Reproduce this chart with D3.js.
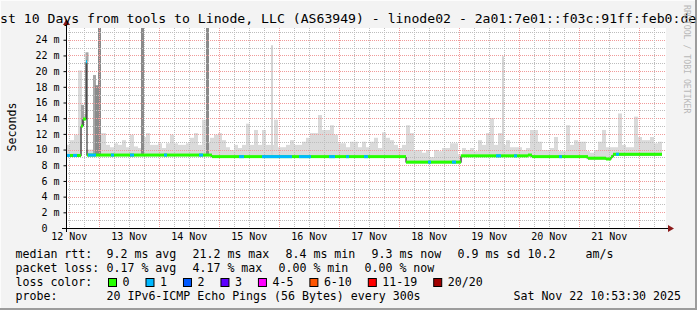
<!DOCTYPE html>
<meta charset="utf-8">
<script src="https://cdn.jsdelivr.net/npm/d3@7/dist/d3.min.js"></script>
<style>
body { margin: 0; background: #f3f3f3; }
svg { display: block; font-family: "DejaVu Sans Mono", monospace; }
</style>
<body>
<script>

// layout
var w = 697, h = 310,
    plot = {left: 66, right: 666, top: 28, bottom: 228};

// first / last sample of the 10 day window
var tStart = new Date(2025, 10, 12, 10, 53, 30),
    tEnd = new Date(2025, 10, 22, 10, 53, 30);

// smoke: highest ping per 1.6 h bin, ms
var smokeTop = [
  10.6, 11.2, 11.9, 20.1, 14.5, 10.0, 10.0, 11.0, 12.1, 12.1,
  10.6, 10.3, 10.8, 10.6, 11.2, 10.3, 11.9, 10.4, 10.2, 11.6,
  12.1, 10.6, 10.6, 10.8, 10.2, 10.8, 11.9, 10.8, 10.6, 10.6,
  10.8, 11.5, 12.1, 10.6, 13.8, 11.0, 11.5, 11.9, 12.1, 11.2,
  10.3, 9.95, 10.6, 10.2, 10.6, 13.3, 10.6, 12.5, 10.6, 12.5,
  10.6, 10.6, 13.8, 10.3, 10.3, 10.6, 11.2, 10.6, 10.6, 11.0,
  11.5, 12.1, 12.1, 14.4, 12.5, 12.5, 13.1, 11.9, 10.8, 10.8,
  10.3, 11.0, 11.0, 10.3, 11.0, 10.3, 11.0, 11.5, 10.2, 12.2,
  11.5, 11.2, 10.6, 10.2, 10.6, 13.1, 12.1, 9.95, 9.95, 9.6,
  9.95, 9.05, 9.95, 9.8, 10.2, 10.2, 10.8, 10.8, 9.4, 10.2,
  9.95, 10.2, 9.8, 11.2, 10.6, 12.1, 14.0, 10.6, 12.1, 10.6,
  11.2, 10.3, 10.3, 10.3, 9.95, 10.2, 12.5, 12.5, 11.0, 9.95,
  9.95, 10.2, 11.6, 9.8, 9.8, 13.1, 10.6, 11.2, 11.0, 11.0,
  9.8, 9.6, 9.95, 11.0, 12.5, 10.3, 10.3, 10.3, 14.6, 10.6,
  10.3, 10.3, 14.2, 11.6, 11.2, 11.2, 11.6, 10.8, 11.0
];
var binHours = 1.6;

// single tall pings (hours after start, ms)
var thinHours = [82.0, 174.4],
    thinTop = [23.3, 21.9];
var midHours = [6.0, 7.8, 10.8],
    midTop = [15.7, 22.4, 19.5];
var darkHours = [11.6, 12.8, 30.0, 56.0],
    darkTop = [18.2, 30, 30, 30];

// median rtt steps (hours after start, ms)
var medHours  = [0, 6.0, 6.8, 8.0, 8.4, 58.4, 136.0, 158.0, 184.8, 186.4, 208.8, 216.0, 218.0, 218.8],
    medValues = [9.25, 13.0, 13.9, 21.2, 9.3, 9.1, 8.4, 9.2, 9.3, 9.1, 8.9, 8.8, 9.1, 9.4],
    medEnd = 238.4;

// periods with 1 of 20 pings lost (hours after start)
var lossFrom = [0, 2.8, 8.0, 8.8, 18.0, 25.6, 39.2, 53.2, 69.2, 78.4, 93.2, 105.2, 112.0, 119.2, 144.8, 154.4, 172.0, 179.2, 197.2, 220.0],
    lossTo   = [1.6, 4.4, 8.4, 12.0, 19.2, 27.2, 40.4, 54.8, 71.2, 90.4, 98.0, 107.6, 113.2, 120.8, 146.0, 156.0, 174.0, 180.4, 198.4, 221.2];

var lossLabels = ["0", "1", "2", "3", "4-5", "6-10", "11-19", "20/20"],
    lossColors = ["#26ff00", "#00b8ff", "#0059ff", "#5e00ff", "#ff00ff", "#ff5500", "#ff0000", "#a00000"];

var statsRtt = [[16, "median rtt:"], [107, "9.2 ms avg"], [193, "21.2 ms max"], [286, "8.4 ms min"],
                [372, "9.3 ms now"], [458, "0.9 ms sd"], [528, "10.2"], [586, "am/s"]],
    statsLoss = [[16, "packet loss:"], [107, "0.17 % avg"], [193, "4.17 % max"], [279, "0.00 % min"], [365, "0.00 % now"]];

var legendFont = 11.6;

var svg = d3.select("body").append("svg")
    .attr("width", w)
    .attr("height", h);

// frame
svg.append("rect").attr("width", w).attr("height", h).attr("fill", "#f3f3f3");
svg.append("path").attr("d", "M0,0.5H697M0.5,0V310").attr("stroke", "#fcfcfc").attr("fill", "none");
svg.append("path").attr("d", "M696,0V309M0,309H697").attr("stroke", "#9c9c9c").attr("stroke-width", 2).attr("fill", "none");

var x = d3.scaleTime().domain([tStart, tEnd]).range([plot.left, plot.right]);
var y = d3.scaleLinear().domain([0, 25.5]).range([plot.bottom, plot.top]);

function at(hr) { return new Date(tStart.getTime() + hr * 3600e3); }
function medianAt(hr) {
  var i = d3.bisectRight(medHours, hr) - 1;
  return medValues[Math.max(0, i)];
}

svg.append("rect")
    .attr("x", plot.left).attr("y", plot.top)
    .attr("width", plot.right - plot.left).attr("height", plot.bottom - plot.top)
    .attr("fill", "#fff");

svg.append("clipPath").attr("id", "clip")
  .append("rect")
    .attr("x", plot.left).attr("y", plot.top)
    .attr("width", plot.right - plot.left).attr("height", plot.bottom - plot.top);

var g = svg.append("g").attr("clip-path", "url(#clip)");

// smoke
g.append("g").selectAll("rect")
    .data(smokeTop)
  .enter().append("rect")
    .attr("x", function(d, i) { return x(at(i * binHours)); })
    .attr("width", function(d, i) { return x(at((i + 1) * binHours)) - x(at(i * binHours)); })
    .attr("y", function(d) { return y(d); })
    .attr("height", function(d, i) { return Math.max(0, y(medianAt((i + 0.5) * binHours)) - y(d) + 1); })
    .attr("fill", "#dadada");

function spikes(hours, tops, color, width) {
  g.append("g").selectAll("rect")
      .data(hours)
    .enter().append("rect")
      .attr("x", function(d) { return x(at(d)); })
      .attr("width", width)
      .attr("y", function(d, i) { return y(tops[i]); })
      .attr("height", function(d, i) { return y(medianAt(d + 0.5)) - y(tops[i]); })
      .attr("fill", color);
}
spikes(thinHours, thinTop, "#d4d4d4", 2);
spikes(midHours, midTop, "#a6a6a6", 3);
spikes(darkHours, darkTop, "#8a8a8a", 3);

// grid, under the median line
var grid = svg.append("g");

grid.append("g")
    .attr("stroke-dasharray", "1,1")
    .attr("shape-rendering", "crispEdges")
  .selectAll("line")
    .data(d3.range(1, 26))
  .enter().append("line")
    .attr("stroke", function(d) { return d % 2 ? "#bdbdbd" : "#f09a9a"; })
    .attr("x1", plot.left).attr("x2", plot.right)
    .attr("y1", function(d) { return Math.round(y(d)) + 0.5; })
    .attr("y2", function(d) { return Math.round(y(d)) + 0.5; });

// vertical grid: midnights (major) and every 6 h (minor), built from whole days
var midnights = d3.timeDay.range(d3.timeDay.floor(tStart), d3.timeDay.ceil(tEnd));
var gridTimes = [];
midnights.forEach(function(day) {
  [0, 6, 12, 18].forEach(function(hh) {
    var t = d3.timeHour.offset(day, hh);
    if (t > tStart && t < tEnd) gridTimes.push({t: t, major: hh === 0});
  });
});

// vertical dotted lines drawn as rows of 1px dots
var vPath = function(major) {
  var s = "";
  gridTimes.filter(function(d) { return d.major === major; }).forEach(function(d) {
    var xx = Math.round(x(d.t));
    for (var yy = plot.top; yy <= plot.bottom + 1; yy += 2) s += "M" + xx + "," + yy + "h1v1h-1z";
  });
  return s;
};
grid.append("path").attr("d", vPath(false)).attr("fill", "#bdbdbd").attr("shape-rendering", "crispEdges");
grid.append("path").attr("d", vPath(true)).attr("fill", "#f09a9a").attr("shape-rendering", "crispEdges");

// median line
var medPts = medHours.map(function(d, i) { return [d, medValues[i]]; });
medPts.push([medEnd, medValues[medValues.length - 1]]);

var m = svg.append("g").attr("clip-path", "url(#clip)");
m.append("path")
    .datum(medPts)
    .attr("fill", "none")
    .attr("stroke", "#111")
    .attr("stroke-width", 1)
    .attr("d", d3.line()
      .x(function(d) { return x(at(d[0])); })
      .y(function(d) { return y(d[1]) + 0.5; })
      .curve(d3.curveStepAfter));

m.append("g").selectAll("rect")
    .data(medHours)
  .enter().append("rect")
    .attr("x", function(d) { return x(at(d)); })
    .attr("width", function(d, i) { return x(at(i < medHours.length - 1 ? medHours[i + 1] : medEnd)) - x(at(d)); })
    .attr("y", function(d, i) { return y(medValues[i]) - 1.5; })
    .attr("height", 3)
    .attr("fill", lossColors[0]);

m.append("g").selectAll("rect")
    .data(lossFrom)
  .enter().append("rect")
    .attr("x", function(d) { return x(at(d)); })
    .attr("width", function(d, i) { return x(at(lossTo[i])) - x(at(d)); })
    .attr("y", function(d, i) { return y(medianAt((d + lossTo[i]) / 2)) - 1.5; })
    .attr("height", 3)
    .attr("fill", lossColors[1]);

// axes
var yAxis = d3.axisLeft(y)
    .tickValues(d3.range(0, 25, 2))
    .tickSize(3)
    .tickSizeOuter(0)
    .tickPadding(4)
    .tickFormat(function(d) { return d === 0 ? "0" : d + " m"; });

var ya = svg.append("g")
    .attr("transform", "translate(" + (plot.left + 0.5) + ",0)")
    .call(yAxis);
ya.select(".domain").remove();
ya.selectAll("text").attr("font-family", "DejaVu Sans Mono").attr("font-size", 10).attr("fill", "#000")
    .filter(function(d) { return d === 0; }).attr("dx", -12);

var noons = d3.timeDay.range(tStart, tEnd).map(function(d) { return d3.timeHour.offset(d, -12); });
var xAxis = d3.axisBottom(x)
    .tickValues(noons)
    .tickSize(0)
    .tickPadding(5)
    .tickFormat(d3.timeFormat("%d %b"));

var xa = svg.append("g")
    .attr("transform", "translate(0," + plot.bottom + ")")
    .call(xAxis);
xa.select(".domain").remove();
xa.selectAll("text").attr("font-family", "DejaVu Sans Mono").attr("font-size", 10).attr("fill", "#000");

svg.append("line")
    .attr("x1", plot.left - 4).attr("x2", plot.right + 4)
    .attr("y1", plot.bottom + 0.5).attr("y2", plot.bottom + 0.5)
    .attr("stroke", "#000");
svg.append("line")
    .attr("x1", plot.left + 0.5).attr("x2", plot.left + 0.5)
    .attr("y1", plot.bottom + 4).attr("y2", plot.top - 4)
    .attr("stroke", "#000");
svg.append("path")
    .attr("d", "M" + (plot.right + 2) + "," + (plot.bottom - 3) + "l6,3.5l-6,3.5z")
    .attr("fill", "#8b1a1a");
svg.append("path")
    .attr("d", "M" + (plot.left - 3) + "," + (plot.top - 3) + "l3.5,-6l3.5,6z")
    .attr("fill", "#8b1a1a");

// titles
svg.append("text")
    .attr("x", -15.8).attr("y", 23)
    .attr("font-size", 13.15)
    .text("Last 10 Days from tools to Linode, LLC (AS63949) - linode02 - 2a01:7e01::f03c:91ff:feb0:de");

svg.append("text")
    .attr("transform", "translate(15.5,127) rotate(-90)")
    .attr("text-anchor", "middle")
    .attr("font-size", legendFont)
    .text("Seconds");

svg.append("text")
    .attr("transform", "translate(684,5) rotate(90)")
    .attr("font-size", 8.2)
    .attr("fill", "#b8b8b8")
    .text("RRDTOOL / TOBI OETIKER");

// legend
function row(items, base) {
  svg.append("g").selectAll("text")
      .data(items)
    .enter().append("text")
      .attr("x", function(d) { return d[0] - 0.5; })
      .attr("y", base)
      .attr("font-size", legendFont)
      .text(function(d) { return d[1]; });
}
row(statsRtt, 258);
row(statsLoss, 272);
row([[16, "loss color:"]], 286);
row([[16, "probe:"], [107, "20 IPv6-ICMP Echo Pings (56 Bytes) every 300s"]], 300);

svg.append("text")
    .attr("x", 681).attr("y", 300)
    .attr("text-anchor", "end")
    .attr("font-size", legendFont)
    .text("Sat Nov 22 10:53:30 2025");

var lx = 108;
lossLabels.forEach(function(lab, i) {
  svg.append("rect")
      .attr("x", lx + 0.5).attr("y", 278.5)
      .attr("width", 8).attr("height", 8)
      .attr("fill", lossColors[i])
      .attr("stroke", "#000");
  var t = svg.append("text")
      .attr("x", lx + 14.5).attr("y", 286)
      .attr("font-size", legendFont)
      .text(lab);
  lx = lx + 15 + t.node().getComputedTextLength() + 15.5;
});

</script>
</body>
</html>
